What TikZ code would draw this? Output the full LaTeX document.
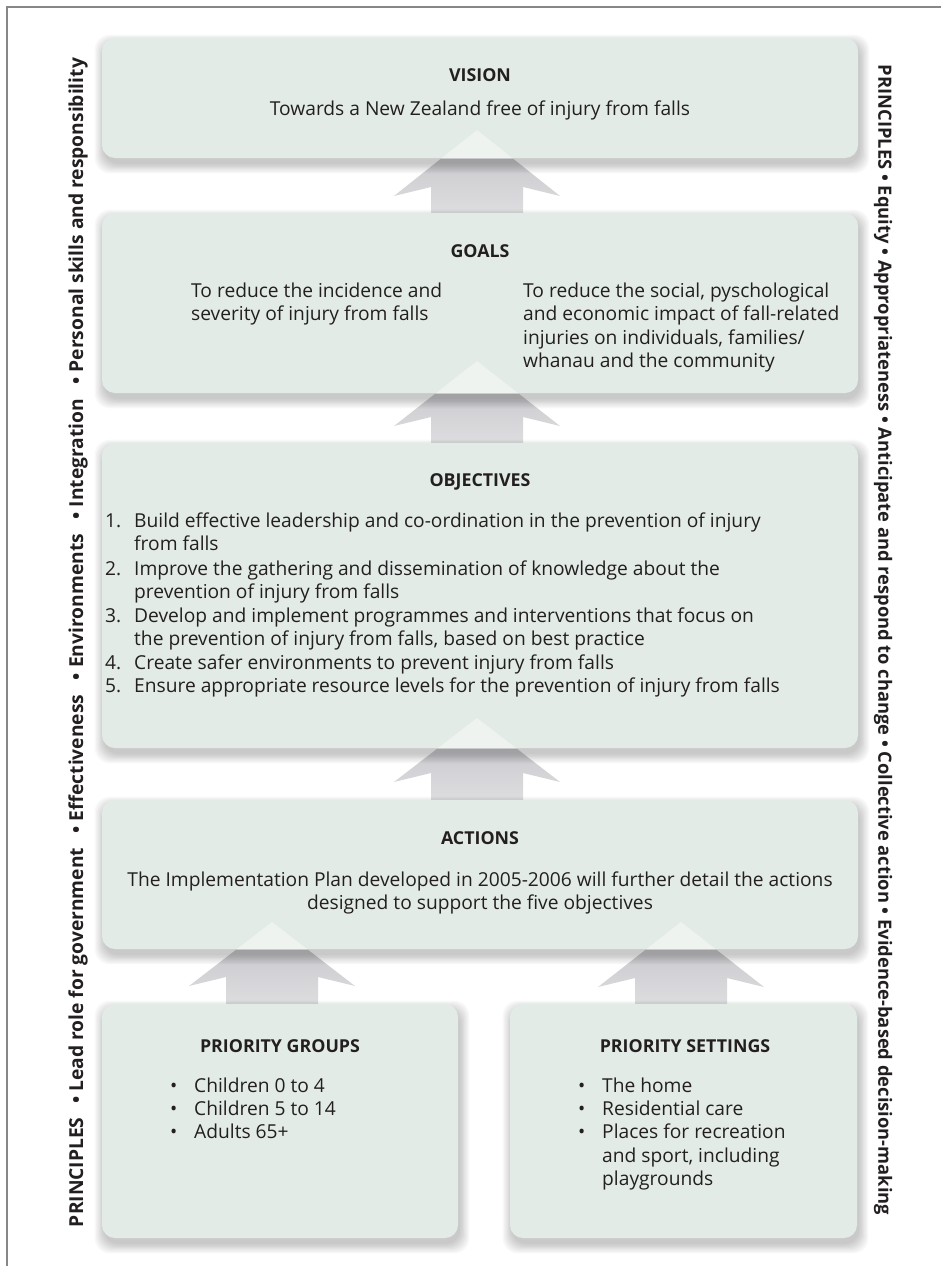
\documentclass[tikz,border=0pt]{standalone}
\usepackage{fontspec}
\setmainfont{Open Sans}
\usetikzlibrary{calc}
\pgfdeclarelayer{paper}
\pgfdeclarelayer{arrows}
\pgfdeclarelayer{shadows}
\pgfsetlayers{paper,arrows,shadows,main}
\definecolor{boxfill}{RGB}{227,235,231}
\definecolor{txt}{RGB}{35,31,32}
\definecolor{framecol}{RGB}{135,135,135}
\definecolor{arrtop}{RGB}{194,194,198}
\definecolor{arrbot}{RGB}{222,222,225}
\tikzset{
  panel/.style={fill=boxfill, rounded corners=13pt, inner sep=0pt},
  shadowpiece/.style={fill=black, opacity=0.028, rounded corners=15pt},
  titletext/.style={font=\fontsize{17.8}{20}\selectfont\bfseries, text=txt, inner sep=0pt, anchor=base},
  bodytext/.style={font=\fontsize{19.2}{22}\selectfont, text=txt, inner sep=0pt, anchor=base west},
  bodyc/.style={font=\fontsize{19.2}{22}\selectfont, text=txt, inner sep=0pt, anchor=base},
  sidetext/.style={font=\fontsize{17}{20}\selectfont\bfseries, text=txt, inner sep=0pt},
  arrowfill/.style={top color=arrtop, bottom color=arrbot},
  arrowglow/.style={fill=white, opacity=.4}
}
% #1 x centre, #2 tip y, #3 head base y, #4 bottom y
\newcommand\blockarrowpath[4]{(#1,#2) -- (#1+83,#3) -- (#1+46,#3-9) -- (#1+46,#4) -- (#1-46,#4) -- (#1-46,#3-9) -- (#1-83,#3) -- cycle}
\newcommand\panelshadow[1]{%
  \foreach \d in {0,1.3,...,10.4}{%
    \fill[shadowpiece] ($(#1.south west)+(2-\d,6+\d)$) rectangle ($(#1.north east)+(2+\d,6-\d)$);}}
\begin{document}
\begin{tikzpicture}[x=1pt,y=-1pt]
\begin{pgfonlayer}{paper}
\fill[white] (0,0) rectangle (941,1266);
\end{pgfonlayer}
\useasboundingbox (0,0) rectangle (941,1266);
\draw[framecol, line width=2pt] (941,7) -- (7,7) -- (7,1266);

% panels
\node[panel, minimum width=756pt, minimum height=120pt] (vision) at (480,98) {};
\node[panel, minimum width=756pt, minimum height=180pt] (goals) at (480,303) {};
\node[panel, minimum width=756pt, minimum height=305pt] (objectives) at (480,595.5) {};
\node[panel, minimum width=756pt, minimum height=149pt] (actions) at (480,874.5) {};
\node[panel, minimum width=356pt, minimum height=234pt] (groups) at (280,1121) {};
\node[panel, minimum width=347pt, minimum height=234pt] (settings) at (683.5,1121) {};

% shadows
\begin{pgfonlayer}{shadows}
\panelshadow{vision}
\panelshadow{goals}
\panelshadow{objectives}
\panelshadow{actions}
\panelshadow{groups}
\panelshadow{settings}
\end{pgfonlayer}

% arrows behind panels
\begin{pgfonlayer}{arrows}
\path[arrowfill] \blockarrowpath{477}{130}{196}{216};
\path[arrowfill] \blockarrowpath{477}{361}{426}{446};
\path[arrowfill] \blockarrowpath{477}{718}{782}{803};
\path[arrowfill] \blockarrowpath{272}{922}{986}{1007};
\path[arrowfill] \blockarrowpath{681}{922}{987}{1007};
\end{pgfonlayer}
% faint arrow heads seen through panels
\begin{scope}
\clip (vision.south west) rectangle (vision.north east);
\fill[arrowglow] \blockarrowpath{477}{130}{196}{216};
\end{scope}
\begin{scope}
\clip (goals.south west) rectangle (goals.north east);
\fill[arrowglow] \blockarrowpath{477}{361}{426}{446};
\end{scope}
\begin{scope}
\clip (objectives.south west) rectangle (objectives.north east);
\fill[arrowglow] \blockarrowpath{477}{718}{782}{803};
\end{scope}
\begin{scope}
\clip (actions.south west) rectangle (actions.north east);
\fill[arrowglow] \blockarrowpath{272}{922}{986}{1007};
\fill[arrowglow] \blockarrowpath{681}{922}{987}{1007};
\end{scope}

% VISION
\node[titletext] (visiont) at (480,81) {VISION};
\node[bodyc] (visionb) at (480,115) {Towards a New Zealand free of injury from falls};

% GOALS
\node[titletext] (goalst) at (480,257) {GOALS};
\node[bodytext] (gl1) at (191,297) {To reduce the incidence and};
\node[bodytext] (gl2) at (191,320) {severity of injury from falls};
\node[bodytext] (gr1) at (523,297) {To reduce the social, pyschological};
\node[bodytext] (gr2) at (523,320) {and economic impact of fall-related};
\node[bodytext] (gr3) at (523,344) {injuries on individuals, families/};
\node[bodytext] (gr4) at (523,367) {whanau and the community};

% OBJECTIVES
\node[titletext] (objt) at (480,486) {OBJECTIVES};
\node[bodytext] (on1) at (105,527) {1.};
\node[bodytext] (o1a) at (134,527) {Build effective leadership and co-ordination in the prevention of injury};
\node[bodytext] (o1b) at (134,550) {from falls};
\node[bodytext] (on2) at (105,575) {2.};
\node[bodytext] (o2a) at (134,575) {Improve the gathering and dissemination of knowledge about the};
\node[bodytext] (o2b) at (134,598) {prevention of injury from falls};
\node[bodytext] (on3) at (105,622) {3.};
\node[bodytext] (o3a) at (134,622) {Develop and implement programmes and interventions that focus on};
\node[bodytext] (o3b) at (134,645) {the prevention of injury from falls, based on best practice};
\node[bodytext] (on4) at (105,669) {4.};
\node[bodytext] (o4a) at (134,669) {Create safer environments to prevent injury from falls};
\node[bodytext] (on5) at (105,692) {5.};
\node[bodytext] (o5a) at (134,692) {Ensure appropriate resource levels for the prevention of injury from falls};

% ACTIONS
\node[titletext] (actt) at (480,844) {ACTIONS};
\node[bodyc] (act1) at (480,886) {The Implementation Plan developed in 2005-2006 will further detail the actions};
\node[bodyc] (act2) at (480,909) {designed to support the five objectives};

% PRIORITY GROUPS
\node[titletext] (pgt) at (280,1052) {PRIORITY GROUPS};
\node[bodytext] (pgb1) at (170,1092) {•};
\node[bodytext] (pg1) at (194,1092) {Children 0 to 4};
\node[bodytext] (pgb2) at (170,1115) {•};
\node[bodytext] (pg2) at (194,1115) {Children 5 to 14};
\node[bodytext] (pgb3) at (170,1138) {•};
\node[bodytext] (pg3) at (194,1138) {Adults 65+};

% PRIORITY SETTINGS
\node[titletext] (pst) at (685,1052) {PRIORITY SETTINGS};
\node[bodytext] (psb1) at (578,1092) {•};
\node[bodytext] (ps1) at (602,1092) {The home};
\node[bodytext] (psb2) at (578,1115) {•};
\node[bodytext] (ps2) at (602,1115) {Residential care};
\node[bodytext] (psb3) at (578,1138) {•};
\node[bodytext] (ps3) at (602,1138) {Places for recreation};
\node[bodytext] (ps4) at (602,1162) {and sport, including};
\node[bodytext] (ps5) at (602,1185) {playgrounds};

% side principles
\node[sidetext, rotate=90] (leftprin) at (78,642.5) {\resizebox{1169pt}{!}{PRINCIPLES\hspace{0.7em}• Lead role for government\hspace{0.5em} • Effectiveness\hspace{0.5em} • Environments\hspace{0.5em} • Integration\hspace{0.5em} • Personal skills and responsibility}};
\node[sidetext, rotate=-90] (rightprin) at (883,640) {\resizebox{1150pt}{!}{PRINCIPLES • Equity • Appropriateness • Anticipate and respond to change • Collective action • Evidence-based decision-making}};
\end{tikzpicture}
\end{document}
